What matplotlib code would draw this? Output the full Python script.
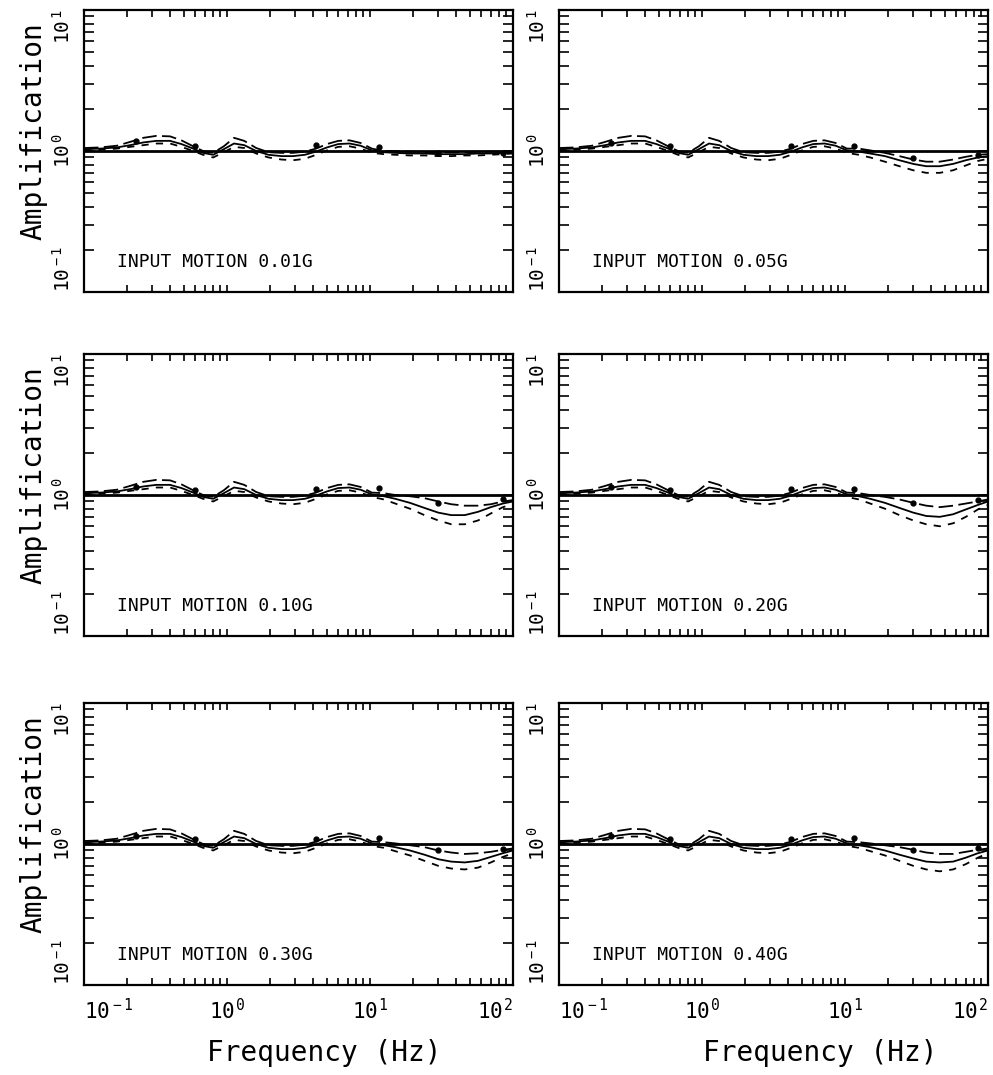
import matplotlib
matplotlib.use('Agg')
import matplotlib.pyplot as plt
from matplotlib.ticker import LogLocator, NullFormatter

plt.rcParams['font.family'] = ['DejaVu Sans Mono', 'DejaVu Sans']
plt.rcParams['mathtext.fontset'] = 'custom'
plt.rcParams['mathtext.rm'] = 'DejaVu Sans Mono'
plt.rcParams['mathtext.it'] = 'DejaVu Sans Mono'

# frequency grid of the traced curves (Hz)
freq = [0.10, 0.13, 0.17, 0.21, 0.26, 0.32, 0.40, 0.48, 0.58, 0.68, 0.80, 0.95,
        1.12, 1.32, 1.6, 1.95, 2.4, 2.9, 3.5, 4.2, 5.0, 6.0, 7.2, 8.6, 10.3,
        12.5, 15, 19, 24, 30, 37, 46, 57, 70, 85, 100]

# part below ~10 Hz is nearly the same in every panel
solid_low = [1.03, 1.04, 1.06, 1.10, 1.15, 1.18, 1.18, 1.12, 1.04, 0.97, 0.94, 1.03,
             1.13, 1.10, 1.00, 0.94, 0.92, 0.92, 0.94, 0.99, 1.06, 1.12, 1.13, 1.09, 1.01]
upper_low = [1.05, 1.06, 1.09, 1.16, 1.24, 1.28, 1.27, 1.19, 1.08, 1.00, 0.97, 1.08,
             1.24, 1.18, 1.05, 0.98, 0.97, 0.97, 0.99, 1.04, 1.12, 1.18, 1.19, 1.14, 1.04]
lower_low = [1.01, 1.02, 1.04, 1.07, 1.10, 1.13, 1.13, 1.07, 1.00, 0.94, 0.90, 0.98,
             1.07, 1.05, 0.96, 0.90, 0.87, 0.86, 0.88, 0.94, 1.01, 1.07, 1.08, 1.04, 0.97]

# part above 10 Hz, per input motion
solid_001 = [0.98, 0.97, 0.96, 0.96, 0.95, 0.95, 0.95, 0.96, 0.96, 0.97, 0.97]
upper_001 = [1.00, 1.00, 0.99, 0.98, 0.98, 0.98, 0.98, 0.99, 0.99, 0.99, 1.00]
lower_001 = [0.95, 0.94, 0.93, 0.93, 0.92, 0.92, 0.93, 0.93, 0.94, 0.95, 0.96]

solid_005 = [0.99, 0.96, 0.92, 0.86, 0.81, 0.78, 0.78, 0.81, 0.86, 0.90, 0.92]
upper_005 = [1.04, 1.01, 0.97, 0.92, 0.87, 0.84, 0.84, 0.87, 0.91, 0.94, 0.95]
lower_005 = [0.94, 0.90, 0.84, 0.78, 0.73, 0.70, 0.70, 0.73, 0.79, 0.85, 0.88]

solid_010 = [0.98, 0.94, 0.88, 0.81, 0.75, 0.72, 0.72, 0.76, 0.82, 0.87, 0.90]
upper_010 = [1.03, 1.00, 0.98, 0.95, 0.90, 0.86, 0.84, 0.84, 0.86, 0.90, 0.92]
lower_010 = [0.93, 0.87, 0.80, 0.72, 0.66, 0.62, 0.62, 0.66, 0.74, 0.82, 0.86]

solid_020 = [0.98, 0.94, 0.88, 0.81, 0.75, 0.71, 0.70, 0.73, 0.79, 0.85, 0.90]
upper_020 = [1.03, 1.00, 0.97, 0.93, 0.88, 0.84, 0.82, 0.84, 0.87, 0.90, 0.93]
lower_020 = [0.93, 0.87, 0.80, 0.72, 0.66, 0.62, 0.60, 0.63, 0.70, 0.79, 0.85]

solid_030 = [0.98, 0.95, 0.90, 0.84, 0.78, 0.75, 0.74, 0.76, 0.81, 0.86, 0.90]
upper_030 = [1.03, 1.01, 0.98, 0.95, 0.90, 0.87, 0.85, 0.86, 0.88, 0.91, 0.93]
lower_030 = [0.94, 0.89, 0.83, 0.76, 0.70, 0.67, 0.66, 0.68, 0.74, 0.81, 0.86]

solid_040 = [0.98, 0.95, 0.90, 0.84, 0.79, 0.75, 0.74, 0.75, 0.80, 0.86, 0.90]
upper_040 = [1.03, 1.01, 0.98, 0.95, 0.91, 0.87, 0.85, 0.85, 0.88, 0.91, 0.93]
lower_040 = [0.94, 0.89, 0.83, 0.76, 0.70, 0.66, 0.64, 0.66, 0.72, 0.80, 0.86]

# isolated measured points
dot_freq = [0.23, 0.6, 4.2, 11.5, 30, 85]
dots_001 = [1.18, 1.09, 1.10, 1.07, 0.97, 0.97]
dots_005 = [1.14, 1.09, 1.09, 1.09, 0.89, 0.94]
dots_010 = [1.14, 1.08, 1.10, 1.12, 0.88, 0.93]
dots_020 = [1.14, 1.08, 1.10, 1.10, 0.88, 0.92]
dots_030 = [1.14, 1.08, 1.09, 1.10, 0.90, 0.92]
dots_040 = [1.14, 1.08, 1.09, 1.10, 0.90, 0.93]

reference = 1.0
titles = ['INPUT MOTION 0.01G', 'INPUT MOTION 0.05G', 'INPUT MOTION 0.10G',
          'INPUT MOTION 0.20G', 'INPUT MOTION 0.30G', 'INPUT MOTION 0.40G']
solids = [solid_001, solid_005, solid_010, solid_020, solid_030, solid_040]
uppers = [upper_001, upper_005, upper_010, upper_020, upper_030, upper_040]
lowers = [lower_001, lower_005, lower_010, lower_020, lower_030, lower_040]
dots = [dots_001, dots_005, dots_010, dots_020, dots_030, dots_040]

W, H = 993, 1075
fig = plt.figure(figsize=(W / 100, H / 100), dpi=100)

col_left = [84, 559]
row_top = [10, 354, 703]
aw, ah = 429, 282

for k in range(6):
    r, c = k // 2, k % 2
    ax = fig.add_axes([col_left[c] / W, 1 - (row_top[r] + ah) / H, aw / W, ah / H])
    ax.set_xscale('log')
    ax.set_yscale('log')
    ax.set_xlim(0.1, 100)
    ax.set_ylim(0.1, 10)

    ax.axhline(reference, color='black', lw=2.0)
    ax.plot(freq, solid_low + solids[k], color='black', lw=1.3)
    ax.plot(freq, upper_low + uppers[k], color='black', lw=1.3, dashes=(8, 3))
    ax.plot(freq, lower_low + lowers[k], color='black', lw=1.3, dashes=(4, 4))
    ax.plot(dot_freq, dots[k], 'o', color='black', ms=3.5)

    ax.text(0.077, 0.105, titles[k], transform=ax.transAxes, fontsize=13,
            va='center', ha='left')

    for s in ax.spines.values():
        s.set_linewidth(1.6)

    ax.xaxis.set_major_locator(LogLocator(base=10))
    ax.xaxis.set_minor_locator(LogLocator(base=10, subs=range(2, 10)))
    ax.yaxis.set_minor_locator(LogLocator(base=10, subs=range(2, 10)))
    ax.xaxis.set_minor_formatter(NullFormatter())
    ax.yaxis.set_minor_formatter(NullFormatter())
    ax.tick_params(axis='x', which='both', direction='in', top=True, length=5, width=1.2)
    ax.tick_params(axis='y', which='both', direction='in', right=True, length=7, width=1.2)

    ax.set_yticks([0.1, 1, 10])
    ax.set_yticklabels([r'$10^{\,-1}$', r'$10^{\,0}$', r'$10^{\,1}$'],
                       rotation=90, fontsize=14)
    ylabs = ax.get_yticklabels()
    ylabs[0].set_va('bottom')
    ylabs[1].set_va('center')
    ylabs[2].set_va('top')
    ax.tick_params(axis='y', pad=7)

    ax.set_xticks([0.1, 1, 10, 100])
    if r == 2:
        ax.set_xticklabels([r'$10^{\,-1}$', r'$10^{\,0}$', r'$10^{\,1}$', r'$10^{\,2}$'],
                           fontsize=15)
        xlabs = ax.get_xticklabels()
        xlabs[0].set_ha('left')
        xlabs[-1].set_ha('right')
        ax.tick_params(axis='x', pad=9)
        ax.set_xlabel('Frequency (Hz)', fontsize=20)
        ax.xaxis.set_label_coords(0.56 if c == 0 else 0.61, -0.19)
    else:
        ax.set_xticklabels([])

    if c == 0:
        ax.set_ylabel('Amplification', fontsize=20)
        ax.yaxis.set_label_coords(-0.085, 0.57)

fig.savefig('out.png', dpi=100)
